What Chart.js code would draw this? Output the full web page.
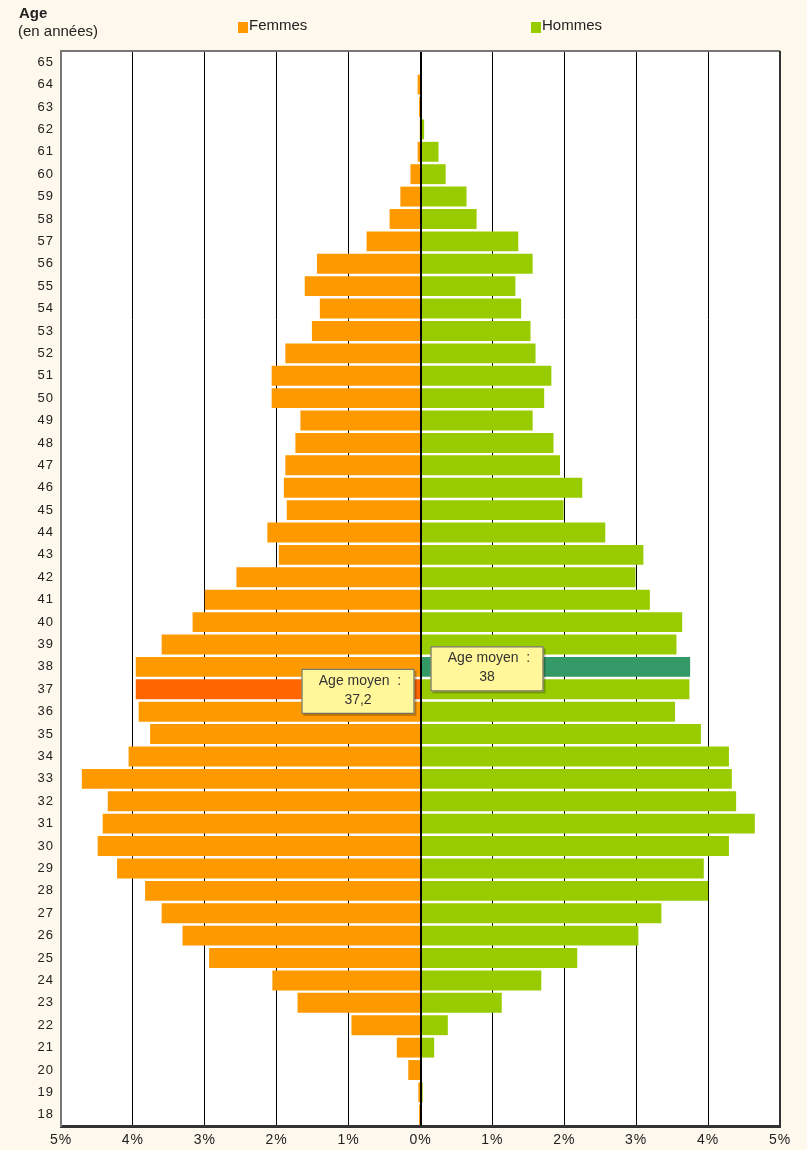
<!DOCTYPE html>
<html>
<head>
<meta charset="utf-8">
<script src="https://cdn.jsdelivr.net/npm/chart.js@4/dist/chart.umd.min.js"></script>
<style>
  html, body { margin: 0; padding: 0; background: #fff8ec; }
  #wrap { width: 807px; height: 1150px; position: relative; }
</style>
</head>
<body>
<div id="wrap"><canvas id="pyramide"></canvas></div>
<script>
// Ages, du plus vieux (en haut) au plus jeune
const ages = [65, 64, 63, 62, 61, 60, 59, 58, 57, 56, 55, 54, 53, 52, 51, 50, 49, 48, 47, 46,
              45, 44, 43, 42, 41, 40, 39, 38, 37, 36, 35, 34, 33, 32, 31, 30, 29, 28, 27, 26,
              25, 24, 23, 22, 21, 20, 19, 18];

// Part de chaque age (%)
const femmes = [0, 0.04, 0.02, 0.01, 0.04, 0.14, 0.28, 0.43, 0.75, 1.44, 1.61, 1.40, 1.51, 1.88, 2.07, 2.07, 1.67, 1.74, 1.88, 1.90,
                1.86, 2.13, 1.97, 2.56, 3.00, 3.17, 3.60, 3.96, 3.96, 3.92, 3.76, 4.06, 4.71, 4.35, 4.42, 4.49, 4.22, 3.83, 3.60, 3.31,
                2.94, 2.06, 1.71, 0.96, 0.33, 0.17, 0.03, 0.02];
const hommes = [0, 0, 0.02, 0.05, 0.25, 0.35, 0.64, 0.78, 1.36, 1.56, 1.32, 1.40, 1.53, 1.60, 1.82, 1.72, 1.56, 1.85, 1.94, 2.25,
                1.99, 2.57, 3.10, 2.99, 3.19, 3.64, 3.56, 3.75, 3.74, 3.54, 3.90, 4.29, 4.33, 4.39, 4.65, 4.29, 3.94, 4.00, 3.35, 3.03,
                2.18, 1.68, 1.13, 0.38, 0.19, 0.01, 0.03, 0];

const xTicks = [-5, -4, -3, -2, -1, 0, 1, 2, 3, 4, 5];

// Age moyen
const ageMoyenFemmes = 37;
const ageMoyenHommes = 38;
const texteFemmes = ['Age moyen  :', '37,2'];
const texteHommes = ['Age moyen  :', '38'];

const orange = '#ff9900', orangeFonce = '#ff6600';
const vert = '#99cc00', vertFonce = '#339966';
const police = '"Liberation Sans", Arial, sans-serif';

const couleursFemmes = ages.map(a => a === ageMoyenFemmes ? orangeFonce : orange);
const couleursHommes = ages.map(a => a === ageMoyenHommes ? vertFonce : vert);

// Fond blanc de la zone de tracé, bordures, légende et étiquettes
const decor = {
    id: 'decor',
    beforeDraw(chart) {
        const { ctx, chartArea: a } = chart;
        ctx.save();
        ctx.fillStyle = '#ffffff';
        ctx.fillRect(a.left, a.top, a.right - a.left, a.bottom - a.top);
        ctx.restore();
        // chiffres des axes un peu espacés
        ctx.letterSpacing = '1px';
    },
    beforeDatasetsDraw(chart) {
        chart.ctx.letterSpacing = '0px';
    },
    afterDatasetsDraw(chart) {
        const { ctx, chartArea: a, scales } = chart;
        const x0 = Math.round(scales.x.getPixelForValue(0)) + 0.5;
        ctx.save();
        ctx.strokeStyle = '#000';
        ctx.lineWidth = 1;
        ctx.beginPath();
        ctx.moveTo(x0, a.top);
        ctx.lineTo(x0, a.bottom);
        ctx.stroke();

        // bordures haut / droite
        ctx.strokeStyle = '#777';
        ctx.lineWidth = 2;
        ctx.beginPath();
        ctx.moveTo(a.left, a.top);
        ctx.lineTo(a.right, a.top);
        ctx.stroke();
        ctx.strokeStyle = '#333';
        ctx.beginPath();
        ctx.moveTo(a.right, a.top);
        ctx.lineTo(a.right, a.bottom);
        ctx.stroke();

        // bulles "Age moyen"
        const bulle = (gauche, centreY, lignes) => {
            const w = 113, h = 45;
            const top = centreY - h / 2;
            ctx.fillStyle = 'rgba(0,0,0,0.25)';
            ctx.fillRect(gauche + 2, top + 2, w, h);
            ctx.fillStyle = '#fff799';
            ctx.fillRect(gauche, top, w, h);
            ctx.strokeStyle = '#555';
            ctx.lineWidth = 1;
            ctx.strokeRect(gauche + 0.5, top + 0.5, w - 1, h - 1);
            ctx.fillStyle = '#333';
            ctx.font = '14px ' + police;
            ctx.textAlign = 'center';
            ctx.textBaseline = 'middle';
            ctx.fillText(lignes[0], gauche + w / 2 + 2, top + 12);
            ctx.fillText(lignes[1], gauche + w / 2, top + 31);
        };
        const xZero = scales.x.getPixelForValue(0);
        bulle(xZero - 6 - 113, scales.y.getPixelForValue(ages.indexOf(ageMoyenFemmes)) + 2, texteFemmes);
        bulle(xZero + 10, scales.y.getPixelForValue(ages.indexOf(ageMoyenHommes)) + 2, texteHommes);
        ctx.restore();
    },
    afterDraw(chart) {
        const { ctx } = chart;
        ctx.save();
        ctx.fillStyle = '#222';
        ctx.textBaseline = 'middle';
        ctx.textAlign = 'left';
        ctx.font = 'bold 15px ' + police;
        ctx.fillText('Age', 19, 14);
        ctx.font = '15px ' + police;
        ctx.fillText('(en années)', 18, 32);

        ctx.fillStyle = orange;
        ctx.fillRect(238, 22, 10, 11);
        ctx.fillStyle = vert;
        ctx.fillRect(531, 22, 10, 11);
        ctx.fillStyle = '#222';
        ctx.fillText('Femmes', 249, 26);
        ctx.fillText('Hommes', 542, 26);
        ctx.restore();
    }
};

new Chart(document.getElementById('pyramide').getContext('2d'), {
    type: 'bar',
    data: {
        labels: ages,
        datasets: [
            {
                label: 'Femmes',
                data: femmes.map(v => -v),
                backgroundColor: couleursFemmes,
                borderWidth: 0,
                barPercentage: 0.89,
                categoryPercentage: 1
            },
            {
                label: 'Hommes',
                data: hommes,
                backgroundColor: couleursHommes,
                borderWidth: 0,
                barPercentage: 0.89,
                categoryPercentage: 1
            }
        ]
    },
    options: {
        indexAxis: 'y',
        responsive: true,
        maintainAspectRatio: false,
        animation: false,
        layout: { padding: { top: 51, right: 27, left: 0, bottom: 0 } },
        plugins: {
            legend: { display: false },
            tooltip: { enabled: false }
        },
        scales: {
            x: {
                stacked: true,
                min: -5,
                max: 5,
                afterBuildTicks: scale => { scale.ticks = xTicks.map(v => ({ value: v })); },
                afterFit: scale => { scale.height = 24; },
                grid: { color: '#000', lineWidth: 1, drawTicks: false },
                border: { color: '#333', width: 3 },
                ticks: {
                    color: '#222',
                    padding: 6,
                    font: { family: police, size: 14 },
                    callback: v => Math.abs(v) + '%'
                }
            },
            y: {
                stacked: true,
                afterFit: scale => { scale.width = 61; },
                grid: { display: false, drawTicks: false },
                border: { color: '#777', width: 2 },
                ticks: {
                    color: '#222',
                    padding: 7,
                    autoSkip: false,
                    font: { family: police, size: 13 }
                }
            }
        }
    },
    plugins: [decor]
});
</script>
</body>
</html>
